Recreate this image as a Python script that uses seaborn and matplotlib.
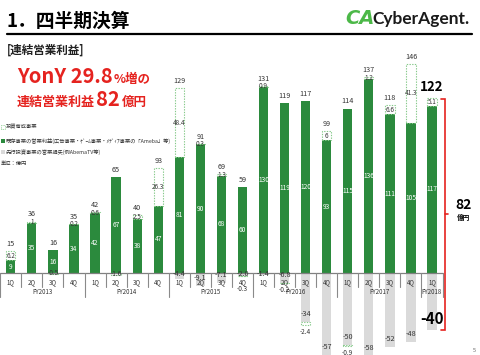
import numpy as np
import pandas as pd
import matplotlib
matplotlib.use("Agg")
import matplotlib.pyplot as plt
from matplotlib.lines import Line2D
from matplotlib.patches import Rectangle
import seaborn as sns

# ---------------- data ----------------
quarters = ["1Q", "2Q", "3Q", "4Q"] * 5 + ["1Q"]
fiscal_years = ["FY2013", "FY2014", "FY2015", "FY2016", "FY2017", "FY2018"]
quarters_per_year = [4, 4, 4, 4, 4, 1]
existing = [9, 35, 16, 34, 42, 67, 38, 47, 81, 90, 68, 60,
            130, 119, 120, 93, 115, 136, 111, 105, 117]
investment = [6.2, 1, -0.5, 0.2, 0.6, -1.6, 2.5, 26.3, 48.4, 0.3, 1.3, -0.3,
              0.9, -0.2, -2.4, 6, -0.9, 1.2, 6.6, 41.3, 5.1]
advance = [0, 0, 0, 0, 0, 0, 0, 0, -4.4, -9.1, -7.1, -2.0,
           -1.4, -6.8, -34, -57, -50, -58, -52, -48, -40]
totals = [15, 36, 16, 35, 42, 65, 40, 93, 129, 91, 69, 59,
          131, 119, 117, 99, 114, 137, 118, 146, 122]
legend_labels = ["投資育成事業",
                 "既存事業の営業利益(広告事業・ｹﾞｰﾑ事業・ﾒﾃﾞｨｱ事業の「Ameba」等)",
                 "先行投資事業の営業損失(例AbemaTV等)",
                 "単位：億円"]

# ---------------- style ----------------
sns.set_style("white")
plt.rcParams['font.family'] = ['Noto Sans CJK JP', 'DejaVu Sans']

GREEN = "#2b8a3d"
GRAY = "#dadada"
DASH = "#86c98a"
RED = "#e5231f"
TXT = "#333333"

W, H = 480, 355
fig = plt.figure(figsize=(4.8, 3.55), dpi=100)
ax = fig.add_axes([0, 0, 1, 1])

def P(x, y):
    return (x / W, 1 - y / H)

n = len(existing)
pos = np.arange(n)
df = pd.DataFrame({"pos": pos, "existing": existing, "advance": advance})
BW = 0.44

sns.barplot(data=df, x="pos", y="advance", native_scale=True, width=BW,
            color=GRAY, saturation=1, errorbar=None, linewidth=0, ax=ax, zorder=1)
sns.barplot(data=df, x="pos", y="existing", native_scale=True, width=BW,
            color=GREEN, saturation=1, errorbar=None, linewidth=0, ax=ax, zorder=2)

inv = np.array(investment, dtype=float)
ex = np.array(existing, dtype=float)
adv = np.array(advance, dtype=float)
base = np.where(inv > 0, ex, adv)
ax.bar(pos, inv, bottom=base, width=BW, fill=False, edgecolor=DASH,
       linestyle=(0, (1.2, 1.2)), linewidth=0.8, zorder=3)

# scale: px per unit
PXX, X0, BASE_PY, PXY = 21.06, 10.8, 273, 1.43
ax.set_xlim(-X0 / PXX, (W - X0) / PXX)
ax.set_ylim(-(H - BASE_PY) / PXY, BASE_PY / PXY)
ax.set_axis_off()

# value labels
for i in range(n):
    ax.text(i, ex[i] / 2, f"{existing[i]:g}", ha="center", va="center",
            fontsize=4.8, color="white", zorder=6)
    v = inv[i]
    if v > 0:
        iy = base[i] + v / 2
    elif adv[i] == 0:
        iy = v / 2
    else:
        iy = min(base[i] + v - 4.9, -11.2)
    ax.text(i, iy, f"{investment[i]:g}", ha="center", va="center",
            fontsize=4.6, color=TXT, zorder=6)
    top = ex[i] + max(v, 0)
    if i == n - 1:
        ax.text(i, top + 3.0, f"{totals[i]}", ha="center", va="bottom",
                fontsize=9.5, fontweight="bold", color="black", zorder=6)
    else:
        ax.text(i, top + 2.2, f"{totals[i]}", ha="center", va="bottom",
                fontsize=5.2, color=TXT, zorder=6)
    if adv[i] != 0:
        lab = f"{advance[i]:.0f}" if abs(advance[i]) >= 10 else f"{advance[i]:.1f}"
        if i == n - 1:
            ax.text(i, adv[i] + 8, lab, ha="center", va="center",
                    fontsize=11, fontweight="bold", color="black", zorder=6)
        else:
            ax.text(i, min(adv[i] + 5.5, -0.5), lab, ha="center", va="center",
                    fontsize=5.2, color=TXT, zorder=6)

# axis + separators
ax.plot([-0.5, n - 0.5], [0, 0], color="#808080", lw=0.9, zorder=4)
bounds = np.cumsum([0] + quarters_per_year)
for k in range(n + 1):
    xs = k - 0.5
    yb = -16.8 if k in bounds else -9.8
    ax.plot([xs, xs], [0, yb], color="#8a8a8a", lw=0.8, zorder=4)
for i in range(n):
    ax.text(i, -6.3, quarters[i], ha="center", va="center", fontsize=4.4,
            color=TXT, zorder=6)
for j, fy in enumerate(fiscal_years):
    cx = bounds[j] + (quarters_per_year[j] - 1) / 2
    ax.text(cx, -13.4, fy, ha="center", va="center", fontsize=4.4,
            color=TXT, zorder=6)

# red bracket
xb = 20.61
ytop, ybot = totals[-1], advance[-1]
ymid = (ytop + ybot) / 2
ax.plot([20.45, xb, xb, 20.45], [ytop, ytop, ybot, ybot], color=RED, lw=1.2,
        zorder=5, solid_joinstyle="miter")
ax.plot([xb, 20.78], [ymid, ymid], color=RED, lw=1.2, zorder=5)
ax.text(21.52, ymid + 6.5, f"{totals[-1] + advance[-1]:g}", ha="center",
        va="center", fontsize=10, fontweight="bold", color="black")
ax.text(21.52, ymid - 2.5, "億円", ha="center", va="center", fontsize=4.8,
        fontweight="bold", color="black")

# ---------------- header ----------------
fig.text(*P(7, 21), "1．四半期決算", fontsize=13.5, fontweight="bold",
         va="center", ha="left", color="black")
fig.add_artist(Line2D([7 / W, 472 / W], [1 - 34 / H] * 2, color="black", lw=1.6))
fig.text(*P(345, 19), "CA", fontsize=14, fontweight="bold", fontstyle="italic",
         color="#4cb848", va="center", ha="left", family=["DejaVu Sans"])
fig.text(*P(372, 19), "CyberAgent.", fontsize=12.5, fontweight="bold",
         color="#1a1a1a", va="center", ha="left", family=["Lato", "DejaVu Sans"])
fig.text(*P(7, 50), "[連結営業利益]", fontsize=8.3, fontweight="bold",
         va="center", ha="left", color="#222222")

fig.text(*P(17, 83), "YonY 29.8", fontsize=14.5, fontweight="bold", color=RED,
         va="baseline", ha="left")
fig.text(*P(114, 83), "%増の", fontsize=9, fontweight="bold", color=RED,
         va="baseline", ha="left")
fig.text(*P(17, 106), "連結営業利益", fontsize=9.4, fontweight="bold", color=RED,
         va="baseline", ha="left")
fig.text(*P(96, 106), "82", fontsize=14.5, fontweight="bold", color=RED,
         va="baseline", ha="left")
fig.text(*P(122, 106), "億円", fontsize=9, fontweight="bold", color=RED,
         va="baseline", ha="left")

# legend
rows_y = [127, 141, 152, 163]
icon_styles = [dict(fill=False, edgecolor=DASH, linestyle=(0, (1, 1)), lw=0.6),
               dict(facecolor=GREEN, edgecolor="none"),
               dict(facecolor=GRAY, edgecolor="none"),
               None]
for ry, lab, st in zip(rows_y, legend_labels, icon_styles):
    if st is not None:
        x0, y0 = P(1, ry + 2)
        fig.add_artist(Rectangle((x0, y0), 4 / W, 4 / H, transform=fig.transFigure, **st))
        fig.text(*P(6, ry), lab, fontsize=3.8, color=TXT, va="center", ha="left")
    else:
        fig.text(*P(1, ry), lab, fontsize=3.8, color=TXT, va="center", ha="left")

fig.text(*P(474, 350), "5", fontsize=4, color="#666666", va="center", ha="center")

fig.savefig("out.png", dpi=100)
